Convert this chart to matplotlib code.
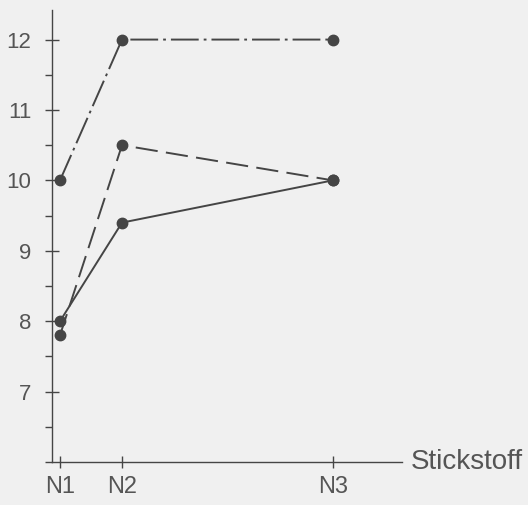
import matplotlib
matplotlib.use("Agg")
import matplotlib.pyplot as plt
from matplotlib.ticker import MultipleLocator

plt.rcParams['font.family'] = ['Liberation Sans', 'DejaVu Sans']
plt.rcParams['lines.scale_dashes'] = False

# data
x_labels = ['N1', 'N2', 'N3']
x_pos = [1.0, 2.0, 5.4]
serie_dashdot = [10.0, 12.0, 12.0]
serie_dashed = [7.8, 10.5, 10.0]
serie_solid = [8.0, 9.4, 10.0]
y_ticks = [7, 8, 9, 10, 11, 12]

bg = '#f0f0f0'
ink = '#454545'
txt = '#555555'

fig = plt.figure(figsize=(5.28, 5.05), dpi=100, facecolor=bg)
ax = fig.add_axes([52/528, 1 - 462/505, 350/528, 452/505])
ax.set_facecolor(bg)

common = dict(color=ink, lw=1.4, marker='o', ms=7.5, mfc=ink, mec=ink, clip_on=False)
ax.plot(x_pos, serie_dashdot, dashes=(20, 3.6, 2, 3.6), **common)
ax.plot(x_pos, serie_dashed, dashes=(16, 6), **common)
ax.plot(x_pos, serie_solid, ls='-', **common)

ax.set_xlim(0.871, 6.516)
ax.set_ylim(6, 12.42)

for s in ['top', 'right']:
    ax.spines[s].set_visible(False)
for s in ['left', 'bottom']:
    ax.spines[s].set_color(ink)
    ax.spines[s].set_linewidth(1.0)

ax.set_yticks(y_ticks)
ax.set_yticklabels([str(v) for v in y_ticks])
ax.yaxis.set_minor_locator(MultipleLocator(0.5))
ax.tick_params(axis='y', which='major', direction='inout', length=10, width=1.0,
               color=ink, labelsize=16, labelcolor=txt, pad=10)
ax.tick_params(axis='y', which='minor', direction='out', length=5, width=1.0, color=ink)

ax.set_xticks(x_pos)
ax.set_xticklabels(x_labels)
ax.tick_params(axis='x', which='major', direction='inout', length=8, width=1.0,
               color=ink, labelsize=17, labelcolor=txt, pad=6)

ax.annotate('Stickstoff', xy=(1, 0), xycoords='axes fraction', xytext=(6, 0),
            textcoords='offset points', va='center', ha='left', fontsize=20, color=txt)

fig.savefig('out.png', dpi=100, facecolor=bg)
